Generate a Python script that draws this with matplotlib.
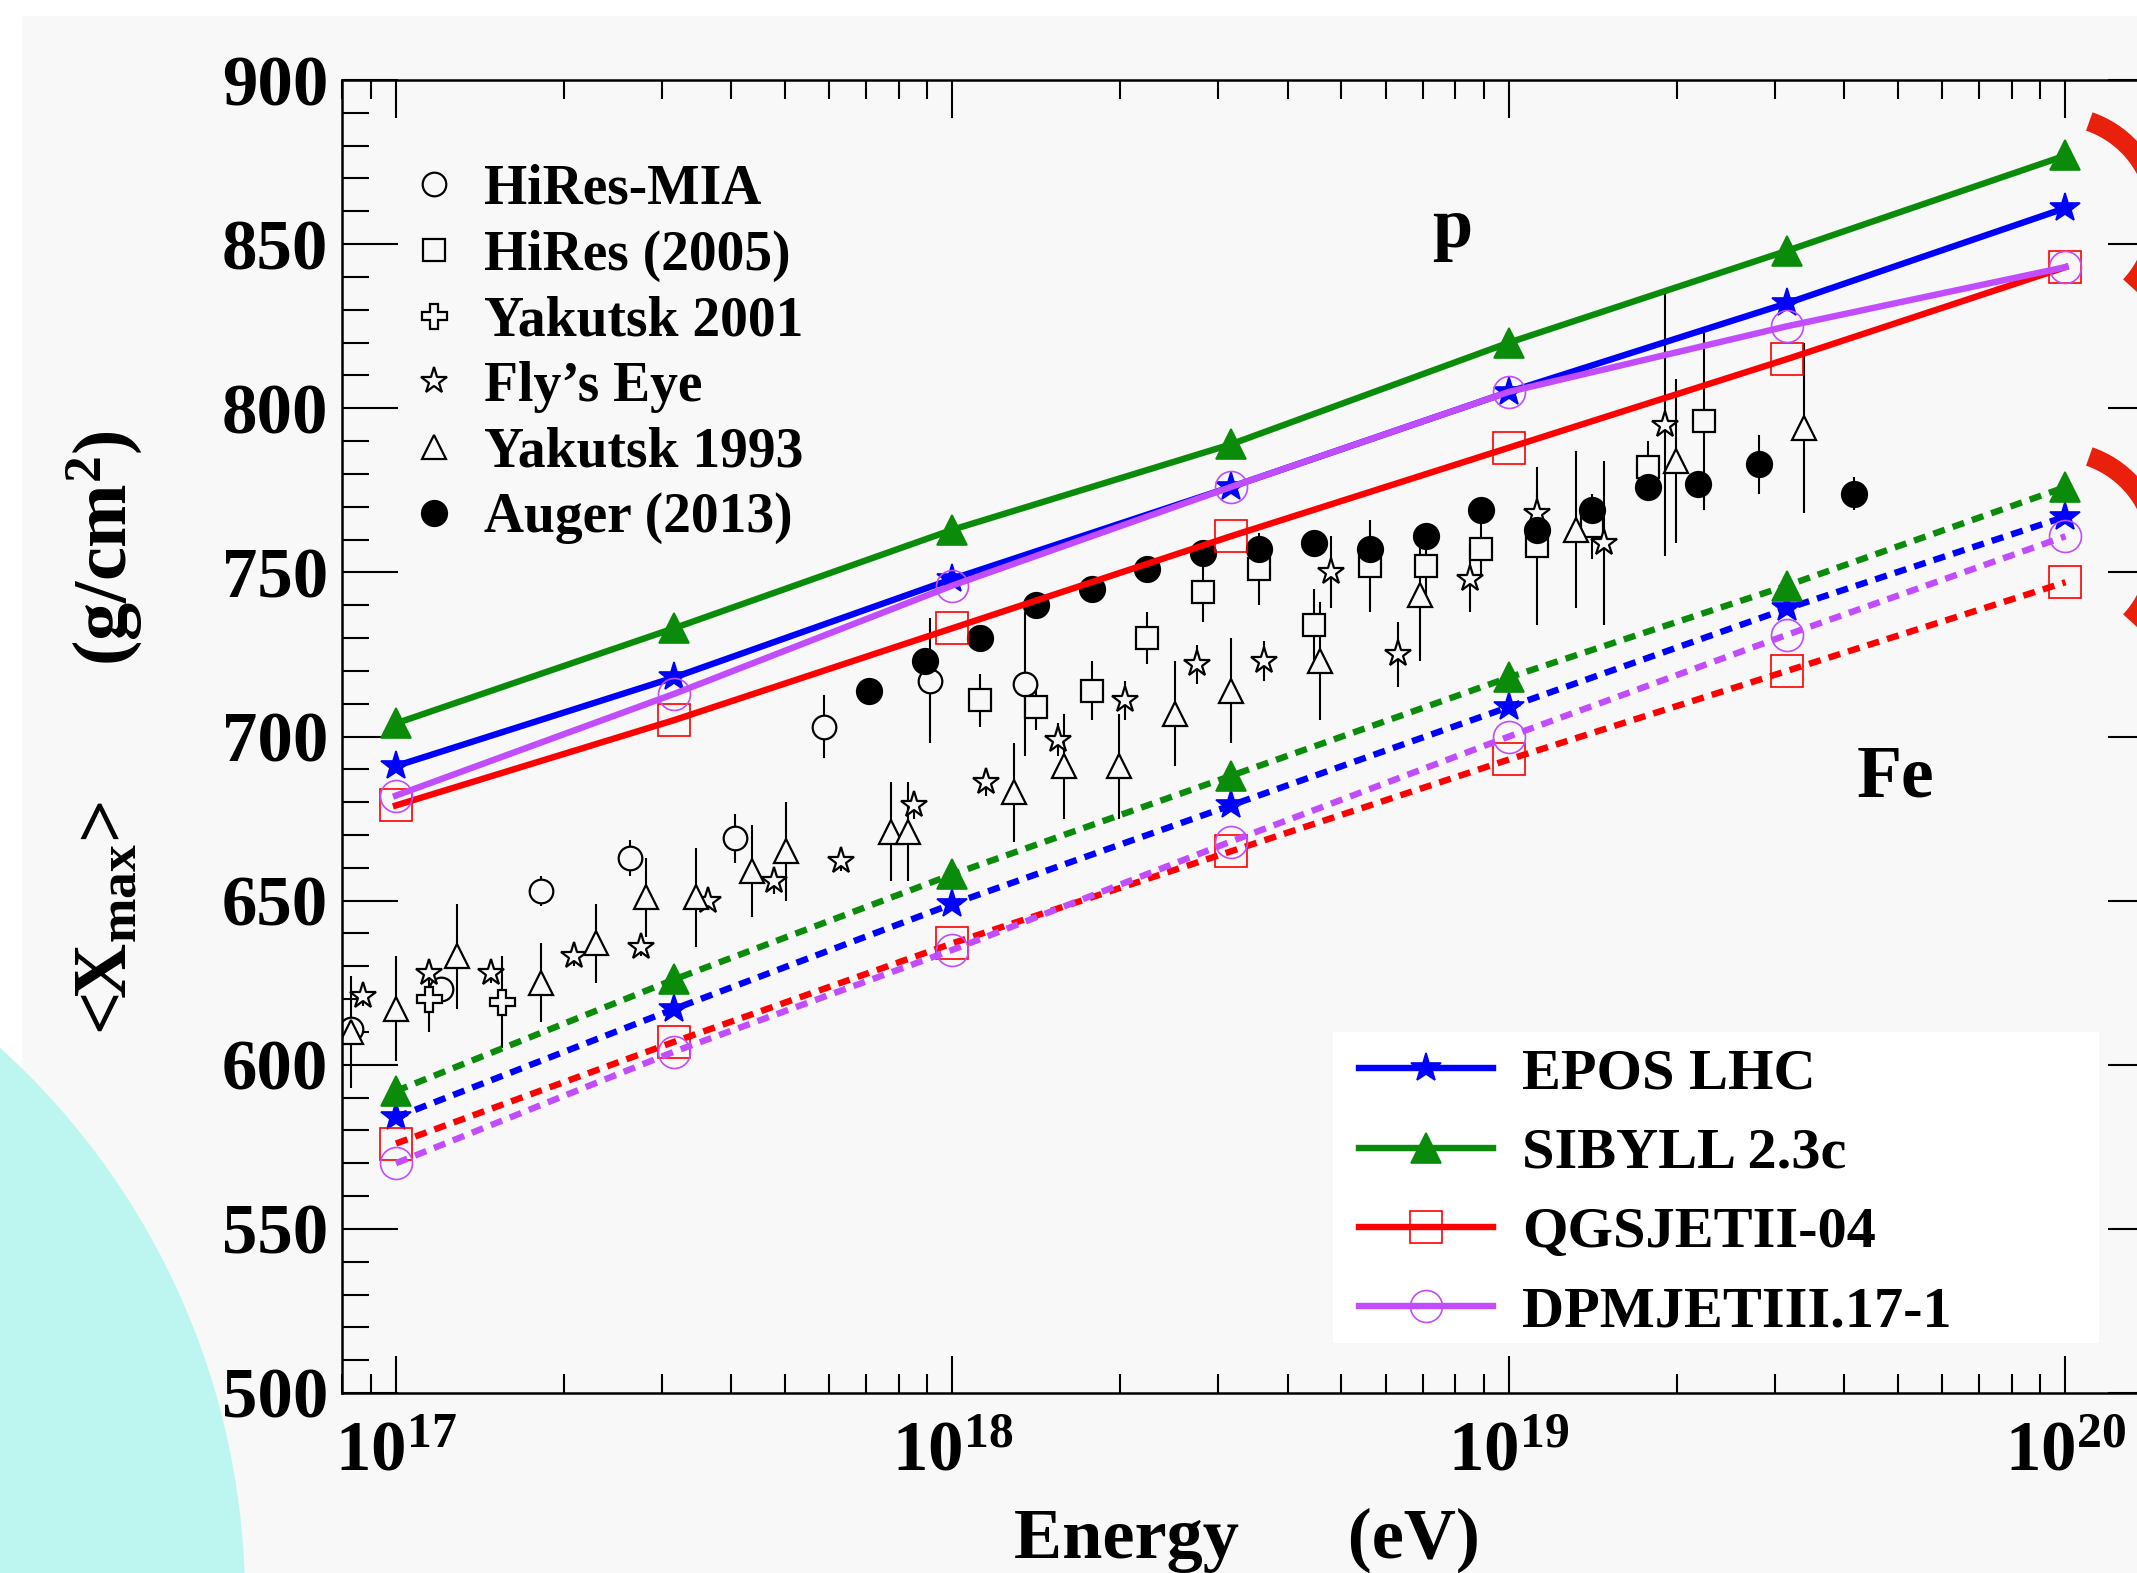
import numpy as np
import matplotlib
matplotlib.use('Agg')
import matplotlib.pyplot as plt
from matplotlib.lines import Line2D
from matplotlib.patches import Circle, Arc, Rectangle
from matplotlib.ticker import FixedLocator, FuncFormatter, NullFormatter, LogLocator, MultipleLocator

# ---------------- data ----------------
model_logE = [17.0, 17.5, 18.0, 18.5, 19.0, 19.5, 20.0]
epos_p   = [691, 718, 748, 776, 805, 832, 861]
sibyll_p = [704, 733, 763, 789, 820, 848, 877]
qgsjet_p = [679, 705, 733, 761, 788, 815, 843]
dpmjet_p = [682, 713, 746, 776, 805, 825, 843]
epos_fe   = [584, 617, 649, 679, 709, 739, 767]
sibyll_fe = [592, 626, 658, 688, 718, 746, 776]
qgsjet_fe = [576, 607, 637, 665, 693, 720, 747]
dpmjet_fe = [570, 604, 635, 668, 700, 731, 761]
model_names = ["EPOS LHC", "SIBYLL 2.3c", "QGSJETII-04", "DPMJETIII.17-1"]

mia_logE = [16.92, 17.08, 17.26, 17.42, 17.61, 17.77, 17.96, 18.13]
mia_X    = [611, 623, 653, 663, 669, 703, 717, 716]
mia_err  = [2, 2, 4.5, 5.5, 7.5, 9.5, 19, 22]

hires_logE = [18.05, 18.15, 18.25, 18.35, 18.45, 18.55, 18.65, 18.75, 18.85, 18.95, 19.05, 19.15, 19.25, 19.35]
hires_X    = [711, 709, 714, 730, 744, 751, 734, 752, 752, 757, 758, 764, 782, 796]
hires_err  = [8, 7, 9, 8, 9, 11, 11, 14, 12, 8, 24, 10, 8, 27]

yak01_logE = [17.06, 17.19]
yak01_X    = [620, 619]
yak01_err  = [10, 14]

fly_logE = [16.94, 17.06, 17.17, 17.32, 17.44, 17.56, 17.68, 17.80, 17.93, 18.06,
            18.19, 18.31, 18.44, 18.56, 18.68, 18.80, 18.93, 19.05, 19.17, 19.28]
fly_X    = [621, 628, 628, 633, 636, 650, 656, 662, 679, 686,
            699, 711, 722, 723, 750, 725, 748, 768, 759, 795]
fly_err  = [3, 3, 3, 3, 3, 3, 4, 3, 4, 4, 5, 6, 6, 6, 11, 10, 10, 6, 25, 40]

yak93_logE = [16.92, 17.00, 17.11, 17.26, 17.36, 17.45, 17.54, 17.64, 17.70, 17.89, 17.92,
              18.11, 18.20, 18.30, 18.40, 18.50, 18.66, 18.84, 19.12, 19.30, 19.53]
yak93_X    = [610, 617, 633, 625, 637, 651, 651, 659, 665, 671, 671,
              683, 691, 691, 707, 714, 723, 743, 763, 784, 794]
yak93_err  = [17, 16, 16, 12, 12, 12, 15, 14, 15, 15, 15,
              15, 16, 16, 16, 16, 18, 20, 24, 25, 26]

auger_logE = [17.85, 17.95, 18.05, 18.15, 18.25, 18.35, 18.45, 18.55, 18.65, 18.75,
              18.85, 18.95, 19.05, 19.15, 19.25, 19.34, 19.45, 19.62]
auger_X    = [714, 723, 730, 740, 745, 751, 756, 757, 759, 757,
              761, 769, 763, 769, 776, 777, 783, 774]
auger_err  = [2, 2, 2, 2, 2, 2, 2, 2, 3, 3, 3, 3, 3, 4, 4, 4, 9, 5]

data_names = ["HiRes-MIA", "HiRes (2005)", "Yakutsk 2001", "Fly\u2019s Eye", "Yakutsk 1993", "Auger (2013)"]

x_ticks = [1e17, 1e18, 1e19, 1e20]
y_ticks = [500, 550, 600, 650, 700, 750, 800, 850, 900]

# ---------------- style ----------------
plt.rcParams['font.family'] = ['Liberation Serif', 'DejaVu Serif']
plt.rcParams['font.weight'] = 'bold'
plt.rcParams['mathtext.fontset'] = 'custom'
plt.rcParams['mathtext.rm'] = 'Liberation Serif:bold'
plt.rcParams['mathtext.bf'] = 'Liberation Serif:bold'
plt.rcParams['mathtext.it'] = 'Liberation Serif:bold:italic'

W, H = 2137, 1573
fig = plt.figure(figsize=(W / 100, H / 100), dpi=100)
fig.patch.set_facecolor('#f8f8f8')

# screenshot decorations
fig.add_artist(Rectangle((0, 1 - 15 / H), 1, 15 / H, transform=fig.transFigure, color='white', zorder=-3))
fig.add_artist(Rectangle((0, 0), 21 / W, 1, transform=fig.transFigure, color='white', zorder=-3))
fig.add_artist(Circle((-5.00, -0.27), 7.45, transform=fig.dpi_scale_trans,
                      facecolor='#bdf6f0', edgecolor='none', zorder=-2))

ax = fig.add_axes([342 / W, 180 / H, 1822 / W, 1313 / H])
ax.set_facecolor('none')

E = lambda lst: [10 ** v for v in lst]

# ---------------- data points ----------------
mew_d = 1.6
elw = 1.5
def data_series(logE, X, err, marker, ms, filled=False):
    ax.errorbar(E(logE), X, yerr=err, fmt='none', ecolor='black', elinewidth=elw, capsize=0, zorder=2)
    h, = ax.plot(E(logE), X, linestyle='none', marker=marker, markersize=ms,
                 markerfacecolor='black' if filled else '#f8f8f8',
                 markeredgecolor='black', markeredgewidth=mew_d, zorder=2.2)
    return h

h_mia = data_series(mia_logE, mia_X, mia_err, 'o', 17)
h_hires = data_series(hires_logE, hires_X, hires_err, 's', 16.5)
h_y01 = data_series(yak01_logE, yak01_X, yak01_err, 'P', 18)
h_fly = data_series(fly_logE, fly_X, fly_err, '*', 20)
h_y93 = data_series(yak93_logE, yak93_X, yak93_err, '^', 17.5)
h_aug = data_series(auger_logE, auger_X, auger_err, 'o', 18, filled=True)

# ---------------- models ----------------
lw_m = 4.6
dots = (0, (1.9, 1.3))
models = [
    (epos_p, epos_fe, '#0000ff', '*', 22, True),
    (sibyll_p, sibyll_fe, '#0a8c0a', '^', 22, True),
    (qgsjet_p, qgsjet_fe, '#ff0000', 's', 23, False),
    (dpmjet_p, dpmjet_fe, '#c24cff', 'o', 23, False),
]
model_handles = []
for p, fe, c, m, ms, filled in models:
    kw = dict(marker=m, markersize=ms, markeredgecolor=c, markeredgewidth=1.2,
              markerfacecolor=c if filled else 'none', color=c, linewidth=lw_m)
    h, = ax.plot(E(model_logE), p, linestyle='-', zorder=3, **kw)
    ax.plot(E(model_logE), fe, linestyle=dots, dash_capstyle='butt', zorder=3, **kw)
    model_handles.append(h)

# ---------------- axes ----------------
ax.set_xscale('log')
ax.set_xlim(10 ** 16.903, 10 ** 20.177)
ax.set_ylim(500, 900)
ax.xaxis.set_major_locator(FixedLocator(x_ticks))
ax.xaxis.set_major_formatter(FuncFormatter(lambda v, p: r'$\mathrm{10^{%d}}$' % round(np.log10(v))))
ax.xaxis.set_minor_locator(LogLocator(base=10, subs=np.arange(2, 10)))
ax.xaxis.set_minor_formatter(NullFormatter())
ax.yaxis.set_major_locator(FixedLocator(y_ticks))
ax.yaxis.set_minor_locator(MultipleLocator(10))

ax.tick_params(axis='x', which='major', direction='in', length=27, width=1.5,
               top=True, bottom=True, pad=20, labelsize=51)
ax.tick_params(axis='x', which='minor', direction='in', length=13.7, width=1.5, top=True, bottom=True)
ax.tick_params(axis='y', which='major', direction='in', length=40, width=1.5,
               left=True, right=True, pad=10, labelsize=51)
ax.tick_params(axis='y', which='minor', direction='in', length=19.4, width=1.5, left=True, right=True)
for s in ax.spines.values():
    s.set_linewidth(1.8)

ax.set_xlabel('Energy      (eV)', fontsize=52, fontweight='bold')
ax.xaxis.set_label_coords(0.4967, -0.0876)
ax.set_ylabel(r'<X$_{\mathrm{max}}$>       (g/cm$^{\mathrm{2}}$)', fontsize=55, fontweight='bold', va='center')
ax.yaxis.set_label_coords(-0.1306, 0.503)

ax.text(10 ** 18.898, 849, 'p', fontsize=52, fontweight='bold', ha='center', va='baseline')
ax.text(10 ** 19.694, 681.6, 'Fe', fontsize=53, fontweight='bold', ha='center', va='baseline')

# ---------------- legends ----------------
leg1 = ax.legend([h_mia, h_hires, h_y01, h_fly, h_y93, h_aug], data_names,
                 loc='upper left', bbox_to_anchor=(0.0384, 0.9361), frameon=False,
                 fontsize=40, handlelength=0.8, handletextpad=0.5, labelspacing=0.245,
                 borderpad=0, borderaxespad=0, numpoints=1)
for t in leg1.get_texts():
    t.set_fontweight('bold')
ax.add_artist(leg1)

ax.add_patch(Rectangle((0.5439, 0.0381), 0.9643 - 0.5439, 0.2749 - 0.0381,
                       transform=ax.transAxes, facecolor='white', edgecolor='none', zorder=4))
leg2 = ax.legend(model_handles, model_names, loc='upper left', bbox_to_anchor=(0.5582, 0.2627),
                 frameon=False, fontsize=42, handlelength=2.3, handletextpad=0.5,
                 labelspacing=0.45, borderpad=0, borderaxespad=0, numpoints=1)
leg2.set_zorder(5)
for t in leg2.get_texts():
    t.set_fontweight('bold')

# red pen marks over the right edge
for cy in (13.56, 10.21):
    fig.add_artist(Arc((20.564, cy), 2.02, 2.02, theta1=-43, theta2=71, lw=14,
                       color='#e8200c', transform=fig.dpi_scale_trans, zorder=6))

fig.savefig('out.png', dpi=100, facecolor=fig.get_facecolor())
